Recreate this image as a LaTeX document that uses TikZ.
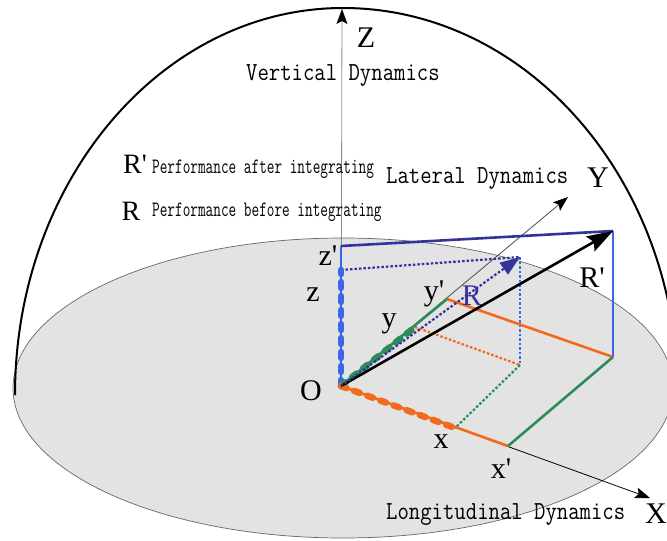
\documentclass[tikz,border=0pt]{standalone}
\usepackage{fontspec}
\setmainfont{Liberation Serif}
\newfontfamily\monofont[FakeStretch=0.85]{Latin Modern Mono}
\newfontfamily\narrowfont[FakeStretch=0.675]{Latin Modern Mono}
\usetikzlibrary{arrows.meta}
\definecolor{cblue}{HTML}{3A66E8}
\definecolor{cnavy}{HTML}{33339A}
\definecolor{corange}{HTML}{F26A1B}
\definecolor{cgreen}{HTML}{2E8B5A}
\definecolor{cdisk}{HTML}{E3E3E3}
\tikzset{
  lbl/.style={font=\fontsize{30}{30}\selectfont, inner sep=0pt, anchor=base},
  leglbl/.style={font=\fontsize{28}{28}\selectfont, inner sep=0pt, anchor=base},
  mono/.style={font=\monofont\fontsize{26}{26}\selectfont, inner sep=0pt, anchor=base west, text=black},
  legtext/.style={font=\narrowfont\fontsize{22}{22}\selectfont, inner sep=0pt, anchor=base west, text=black},
  axis/.style={line width=0.8pt, -{Stealth[length=15pt,width=11pt,inset=3pt,color=black]}},
  solidln/.style={line width=2.6pt},
  dotln/.style={line width=2.2pt, dash pattern=on 2.5pt off 2pt},
  beads/.style={line width=6.5pt, dash pattern=on 6pt off 8pt, line cap=round},
}
\begin{document}
\begin{tikzpicture}[x=1pt,y=-1pt]
\useasboundingbox (0,0) rectangle (667,541);
\clip (0,0) rectangle (667,541);
% points
\coordinate (O) at (341,386);
\coordinate (zc) at (341,270);
\coordinate (zp) at (341,246);
\coordinate (Rp) at (613,231);
\coordinate (Rpb) at (613,357);
\coordinate (yp) at (447,299);
\coordinate (yc) at (415,327);
\coordinate (xc) at (455,428);
\coordinate (xp) at (508,446);
\coordinate (Rt) at (520,257);
\coordinate (Rb) at (520,365);
\coordinate (Xe) at (650,498);
\coordinate (Ye) at (568,197);
\coordinate (Ze) at (342,9);
% disk and dome
\filldraw[fill=cdisk, draw=black!60, line width=0.7pt] (343,388) ellipse[x radius=330, y radius=150];
\draw[line width=2pt] (15,395) arc[start angle=180, end angle=270, x radius=328, y radius=387]
  arc[start angle=270, end angle=360, x radius=335, y radius=387];
% axes
\draw[axis, draw=black!45] (O) -- (Ze);
\draw[axis, draw=black!70] (O) -- (Ye);
\draw[axis] (O) -- (Xe);
% dotted projection of R
\draw[dotln, cnavy] (zc) -- (Rt);
\draw[dotln, cblue] (Rt) -- (Rb);
\draw[dotln, corange] (yc) -- (Rb);
\draw[dotln, cgreen] (Rb) -- (xc);
% solid projection of R'
\draw[solidln, cblue] (O) -- (zp);
\draw[solidln, cnavy] (zp) -- (Rp);
\draw[solidln, cblue] (Rp) -- (Rpb);
\draw[solidln, corange] (yp) -- (Rpb);
\draw[solidln, cgreen] (Rpb) -- (xp);
\draw[solidln, cgreen] (O) -- (yp);
\draw[solidln, corange] (O) -- (xp);
% beaded components
\draw[beads, cblue] (O) -- (zc);
\draw[beads, cgreen] (O) -- (yc);
\draw[beads, corange] (O) -- (xc);
% vectors
\draw[line width=2.6pt, -{Stealth[length=26pt,width=17pt,inset=4pt]}] (O) -- (Rp);
\draw[dotln, cnavy, -{Triangle[length=20pt,width=14pt,color=cnavy]}] (O) -- (Rt);
% labels
\node[lbl] (Zl) at (366,47) {Z};
\node[mono] (vd) at (246,80) {Vertical Dynamics};
\node[lbl] (Yl) at (598,187) {Y};
\node[mono] (lt) at (386,183) {Lateral Dynamics};
\node[lbl] (Xl) at (656,523) {X};
\node[mono] (lg) at (386,519) {Longitudinal Dynamics};
\node[lbl] (Ol) at (311,400) {O};
\node[lbl] (zpl) at (328,265) {z\textquotesingle};
\node[lbl] (zl) at (313,301) {z};
\node[lbl] (ypl) at (434,300) {y\textquotesingle};
\node[lbl] (yl) at (389,327) {y};
\node[lbl, text=cnavy] (Rl) at (472,305) {R};
\node[lbl] (Rpl) at (592,287) {R\textquotesingle};
\node[lbl] (xl) at (441,448) {x};
\node[lbl] (xpl) at (501,478) {x\textquotesingle};
% legend
\node[leglbl] (lgRp) at (135,173) {R\textquotesingle};
\node[legtext] (lgRpt) at (152,173) {Performance after integrating};
\node[leglbl] (lgR) at (131,220) {R};
\node[legtext] (lgRt) at (152,216) {Performance before integrating};
\end{tikzpicture}
\end{document}
